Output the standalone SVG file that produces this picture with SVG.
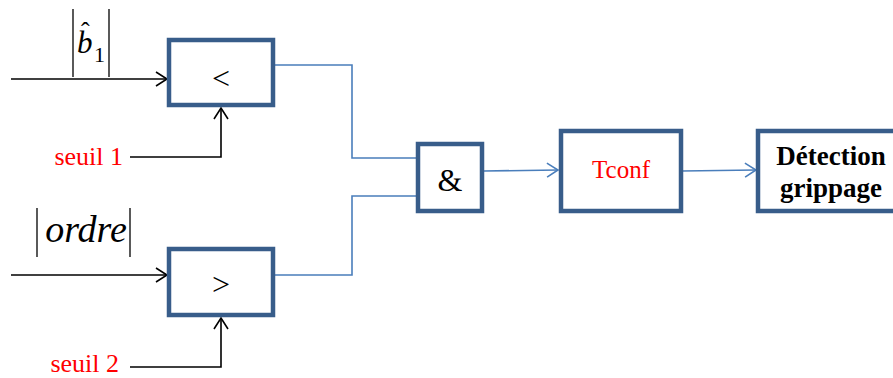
<svg xmlns="http://www.w3.org/2000/svg" width="893" height="378" viewBox="0 0 893 378">
<defs>
<marker id="ab" markerWidth="14" markerHeight="16" refX="12" refY="8" orient="auto" markerUnits="userSpaceOnUse">
<path d="M1,1 L12,8 L1,15" fill="none" stroke="#000" stroke-width="1.6"/>
</marker>
<marker id="abb" markerWidth="14" markerHeight="16" refX="12" refY="8" orient="auto" markerUnits="userSpaceOnUse">
<path d="M1,1 L12,8 L1,15" fill="none" stroke="#4A7EBB" stroke-width="1.6"/>
</marker>
</defs>
<style>
.box{fill:#fff;stroke:#385D8A;stroke-width:4.5}
.k{fill:none;stroke:#000;stroke-width:1.6}
.b{fill:none;stroke:#4A7EBB;stroke-width:1.6}
.bar{stroke:#000;stroke-width:1.3}
.t{font-family:"Liberation Serif","Times New Roman",serif}
.red{fill:#FF0000}
</style>
<rect width="893" height="378" fill="#fff"/>
<g id="connectors">
<line class="k" x1="11" y1="79" x2="167" y2="79" marker-end="url(#ab)"/>
<polyline class="k" points="130,157 221,157 221,108" marker-end="url(#ab)"/>
<line class="k" x1="11" y1="275" x2="167" y2="275" marker-end="url(#ab)"/>
<polyline class="k" points="130,367 221,367 221,318" marker-end="url(#ab)"/>
<polyline class="b" points="275,65 352,65 352,158 417,158"/>
<polyline class="b" points="275,275 352,275 352,196 417,196"/>
<line class="b" x1="484" y1="171" x2="558" y2="170" marker-end="url(#abb)"/>
<line class="b" x1="682" y1="171" x2="756" y2="170" marker-end="url(#abb)"/>
</g>
<g id="label-b1">
<line class="bar" x1="73" y1="9" x2="73" y2="77"/>
<line class="bar" x1="109" y1="9" x2="109" y2="77"/>
<text class="t"><tspan x="77" y="53" font-size="31" font-style="italic">b</tspan><tspan x="81" y="40" font-size="26">ˆ</tspan><tspan x="94" y="62" font-size="22">1</tspan></text>
</g>
<g id="label-ordre">
<line class="bar" x1="37" y1="208" x2="37" y2="257"/>
<line class="bar" x1="130" y1="208" x2="130" y2="257"/>
<text class="t" x="86" y="242" font-size="38" font-style="italic" text-anchor="middle">ordre</text>
</g>
<g id="seuil1"><text class="t red" x="123" y="165" font-size="26" text-anchor="end">seuil 1</text></g>
<g id="seuil2"><text class="t red" x="119" y="372" font-size="26" text-anchor="end">seuil 2</text></g>
<g id="lt">
<rect class="box" x="169" y="40" width="104" height="65"/>
<text class="t" x="221" y="89" font-size="32" text-anchor="middle">&lt;</text>
</g>
<g id="gt">
<rect class="box" x="169" y="249" width="104" height="66"/>
<text class="t" x="221" y="295" font-size="32" text-anchor="middle">&gt;</text>
</g>
<g id="and">
<rect class="box" x="418" y="144" width="64" height="67"/>
<text class="t" x="450" y="191" font-size="32" text-anchor="middle">&amp;</text>
</g>
<g id="tconf">
<rect class="box" x="561" y="131" width="120" height="80"/>
<text class="t red" x="621" y="178" font-size="25" text-anchor="middle">Tconf</text>
</g>
<g id="detection">
<rect class="box" x="758" y="131" width="150" height="80"/>
<text class="t" x="831" y="165" font-size="27" font-weight="bold" text-anchor="middle">Détection</text>
<text class="t" x="831" y="197" font-size="27" font-weight="bold" text-anchor="middle">grippage</text>
</g>
</svg>
